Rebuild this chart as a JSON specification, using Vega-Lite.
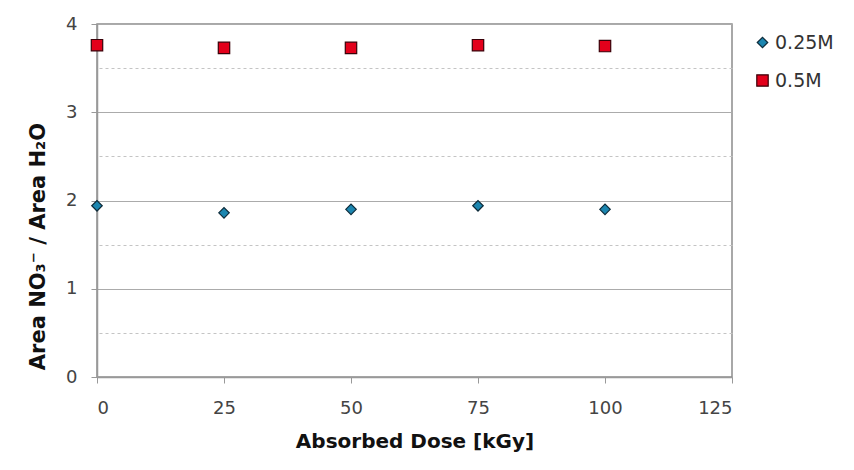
{
  "$schema": "https://vega.github.io/schema/vega-lite/v6.json",
  "autosize": {"type": "none"},
  "width": 635,
  "height": 353,
  "padding": {"left": 97, "top": 24, "right": 122, "bottom": 93},
  "background": "white",
  "config": {
    "font": "DejaVu Sans",
    "view": {"stroke": "#8c8c8c", "strokeWidth": 1.5}
  },
  "data": {
    "values": [
      {"dose": 0, "ratio": 1.94, "conc": "0.25M"},
      {"dose": 25, "ratio": 1.86, "conc": "0.25M"},
      {"dose": 50, "ratio": 1.90, "conc": "0.25M"},
      {"dose": 75, "ratio": 1.94, "conc": "0.25M"},
      {"dose": 100, "ratio": 1.90, "conc": "0.25M"},
      {"dose": 0, "ratio": 3.76, "conc": "0.5M"},
      {"dose": 25, "ratio": 3.73, "conc": "0.5M"},
      {"dose": 50, "ratio": 3.73, "conc": "0.5M"},
      {"dose": 75, "ratio": 3.76, "conc": "0.5M"},
      {"dose": 100, "ratio": 3.75, "conc": "0.5M"}
    ]
  },
  "layer": [
    {
      "mark": {"type": "point", "filled": true, "strokeWidth": 1.2, "opacity": 1},
      "encoding": {
        "x": {
          "field": "dose", "type": "quantitative",
          "scale": {"domain": [0, 125], "nice": false, "zero": false},
          "axis": {
            "values": [0, 25, 50, 75, 100, 125],
            "title": "Absorbed Dose [kGy]",
            "titleFont": "DejaVu Sans", "titleFontSize": 20, "titleFontWeight": "bold", "titleColor": "#111111",
            "titlePadding": 14,
            "labelFontSize": 18, "labelColor": "#444444", "labelPadding": 16,
            "tickSize": 6, "tickColor": "#999999",
            "domainColor": "#999999", "domainWidth": 1.5,
            "grid": false
          }
        },
        "y": {
          "field": "ratio", "type": "quantitative",
          "scale": {"domain": [0, 4], "nice": false},
          "axis": {
            "orient": "left",
            "values": [0, 1, 2, 3, 4],
            "format": "d",
            "title": "Area NO₃⁻ / Area H₂O",
            "titleFont": "DejaVu Sans", "titleFontSize": 21, "titleFontWeight": "bold", "titleColor": "#111111",
            "titlePadding": 17,
            "titleY": 222,
            "labelFontSize": 18, "labelColor": "#444444", "labelPadding": 14,
            "tickSize": 6, "tickColor": "#999999",
            "domainColor": "#999999", "domainWidth": 1.5,
            "grid": true, "gridColor": "#ababab", "gridWidth": 1.2
          }
        },
        "shape": {
          "field": "conc", "type": "nominal",
          "scale": {"domain": ["0.25M", "0.5M"], "range": ["diamond", "square"]}
        },
        "size": {
          "field": "conc", "type": "nominal",
          "scale": {"domain": ["0.25M", "0.5M"], "range": [110, 130]}
        },
        "fill": {
          "field": "conc", "type": "nominal",
          "scale": {"domain": ["0.25M", "0.5M"], "range": ["#1c86b0", "#e3001b"]},
          "legend": {
            "title": null,
            "orient": "none",
            "legendX": 656,
            "legendY": 9,
            "labelFontSize": 19,
            "labelColor": "#333333",
            "labelOffset": 3,
            "rowPadding": 18,
            "symbolStrokeWidth": 1.2
          }
        },
        "stroke": {
          "field": "conc", "type": "nominal",
          "scale": {"domain": ["0.25M", "0.5M"], "range": ["#0d2b3a", "#3a0008"]}
        }
      }
    },
    {
      "mark": {"type": "point", "opacity": 0},
      "encoding": {
        "x": {"field": "dose", "type": "quantitative", "scale": {"domain": [0, 125], "nice": false, "zero": false}},
        "y": {
          "field": "ratio", "type": "quantitative",
          "scale": {"domain": [0, 4], "nice": false},
          "axis": {
            "orient": "right",
            "values": [0.5, 1.5, 2.5, 3.5],
            "labels": false, "ticks": false, "domain": false, "title": null,
            "grid": true, "gridColor": "#c4c4c4", "gridDash": [3, 3], "gridWidth": 1
          }
        }
      }
    }
  ],
  "resolve": {"axis": {"y": "independent"}}
}
